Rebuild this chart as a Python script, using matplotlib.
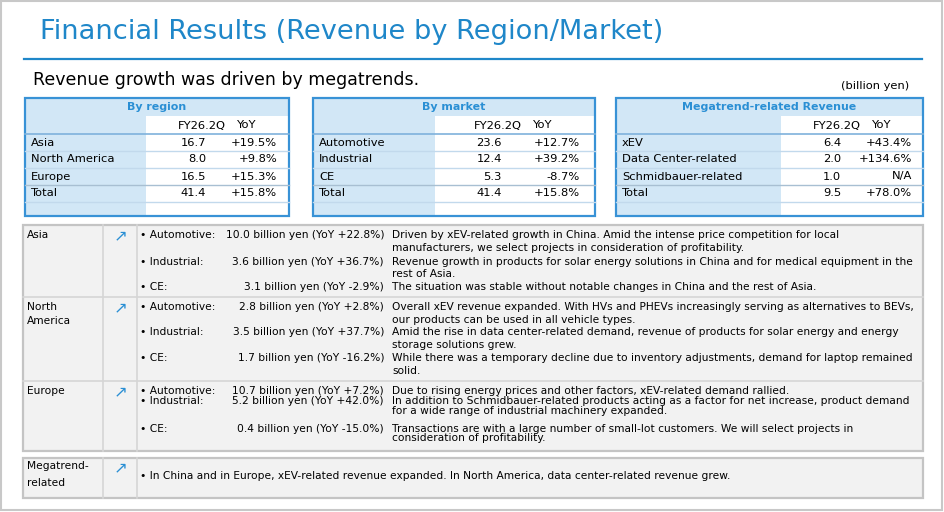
import matplotlib
matplotlib.use("Agg")
import matplotlib.pyplot as plt
from matplotlib.patches import Rectangle

# ---- data ----
region_labels = ["Asia", "North America", "Europe", "Total"]
region_values = [16.7, 8.0, 16.5, 41.4]
region_yoy = ["+19.5%", "+9.8%", "+15.3%", "+15.8%"]

market_labels = ["Automotive", "Industrial", "CE", "Total"]
market_values = [23.6, 12.4, 5.3, 41.4]
market_yoy = ["+12.7%", "+39.2%", "-8.7%", "+15.8%"]

mega_labels = ["xEV", "Data Center-related", "Schmidbauer-related", "Total"]
mega_values = [6.4, 2.0, 1.0, 9.5]
mega_yoy = ["+43.4%", "+134.6%", "N/A", "+78.0%"]

segments = ["Automotive", "Industrial", "CE"]

asia_amounts = [10.0, 3.6, 3.1]
asia_seg_yoy = ["+22.8%", "+36.7%", "-2.9%"]
asia_comments = [
    ["Driven by xEV-related growth in China. Amid the intense price competition for local",
     "manufacturers, we select projects in consideration of profitability."],
    ["Revenue growth in products for solar energy solutions in China and for medical equipment in the",
     "rest of Asia."],
    ["The situation was stable without notable changes in China and the rest of Asia."],
]

na_amounts = [2.8, 3.5, 1.7]
na_seg_yoy = ["+2.8%", "+37.7%", "-16.2%"]
na_comments = [
    ["Overall xEV revenue expanded. With HVs and PHEVs increasingly serving as alternatives to BEVs,",
     "our products can be used in all vehicle types."],
    ["Amid the rise in data center-related demand, revenue of products for solar energy and energy",
     "storage solutions grew."],
    ["While there was a temporary decline due to inventory adjustments, demand for laptop remained",
     "solid."],
]

eu_amounts = [10.7, 5.2, 0.4]
eu_seg_yoy = ["+7.2%", "+42.0%", "-15.0%"]
eu_comments = [
    ["Due to rising energy prices and other factors, xEV-related demand rallied."],
    ["In addition to Schmidbauer-related products acting as a factor for net increase, product demand",
     "for a wide range of industrial machinery expanded."],
    ["Transactions are with a large number of small-lot customers. We will select projects in",
     "consideration of profitability."],
]

mega_comment = ("In China and in Europe, xEV-related revenue expanded. "
                "In North America, data center-related revenue grew.")

# colours
TITLE_BLUE = "#1f87c9"
HEAD_BLUE = "#2a8fd4"
BORDER_BLUE = "#3892d6"
LIGHT_BLUE = "#d2e7f6"
PANEL = "#f2f2f2"
PANEL_EDGE = "#c4c4c4"
DIV = "#d6d6d6"

plt.rcParams['font.family'] = ['DejaVu Sans']

fig = plt.figure(figsize=(9.44, 5.12), dpi=100)
ax = fig.add_axes([0, 0, 1, 1])
ax.set_xlim(0, 944)
ax.set_ylim(512, 0)
ax.axis("off")
renderer = fig.canvas.get_renderer()


def fit_size(text, width, **kw):
    # font size that makes text about `width` pixels wide
    t = ax.text(0, 0, text, fontsize=10, **kw)
    w = t.get_window_extent(renderer).width
    t.remove()
    return 10 * width / w


fs_title = fit_size("Financial Results (Revenue by Region/Market)", 622)
fs_sub = fit_size("Revenue growth was driven by megatrends.", 384)
fs_unit = fit_size("(billion yen)", 68)
fs_tab = fit_size("Data Center-related", 114)
fs_head = fit_size("Megatrend-related Revenue", 175, fontweight="bold")
fs_body = fit_size(asia_comments[1][0], 516)
fs_arrow = fs_body * 1.55

# outer frame
ax.add_patch(Rectangle((1, 1), 941, 509, fc="white", ec="#c8c8c8", lw=1.5, zorder=0))

# title + rule
ax.text(40, 32, "Financial Results (Revenue by Region/Market)", fontsize=fs_title,
        color=TITLE_BLUE, va="center", ha="left")
ax.plot([24, 922], [59, 59], color=TITLE_BLUE, lw=1.6)
ax.text(33, 80, "Revenue growth was driven by megatrends.", fontsize=fs_sub,
        color="black", va="center", ha="left")
ax.text(909, 86, "(billion yen)", fontsize=fs_unit, ha="right", va="center")


def draw_table(x0, x1, col_x, fy_x, val_r, yoy_r, title, labels, values, yoy):
    top, head_b, sub_b, bottom = 98, 116, 134, 216
    row_h = 17
    ax.add_patch(Rectangle((x0, top), x1 - x0, bottom - top, fc=LIGHT_BLUE, ec="none"))
    ax.add_patch(Rectangle((col_x, head_b), x1 - col_x, bottom - head_b, fc="white", ec="none"))
    ax.text((x0 + x1) / 2, 107.5, title, ha="center", va="center", color=HEAD_BLUE,
            fontsize=fs_head, fontweight="bold")
    ax.text(fy_x, 125.5, "FY26.2Q", ha="left", va="center", fontsize=fs_tab)
    ax.text(fy_x + 58.5, 125.5, "YoY", ha="left", va="center", fontsize=fs_tab)
    ax.plot([x0, x1], [sub_b, sub_b], color="#7fb2dc", lw=1.2)
    for i, (lab, v, yy) in enumerate(zip(labels, values, yoy)):
        yc = sub_b + row_h * i + row_h / 2
        ax.text(x0 + 6, yc, lab, ha="left", va="center", fontsize=fs_tab)
        ax.text(val_r, yc, f"{v:.1f}", ha="right", va="center", fontsize=fs_tab)
        ax.text(yoy_r, yc, yy, ha="right", va="center", fontsize=fs_tab)
        line_c = "#a8bfd2" if i == len(labels) - 2 else "#c2d9ec"
        ax.plot([x0, x1], [sub_b + row_h * (i + 1)] * 2, color=line_c, lw=1.0)
    ax.add_patch(Rectangle((x0, top), x1 - x0, bottom - top, fc="none", ec=BORDER_BLUE, lw=1.6))


draw_table(25, 289, 146, 178, 206, 277, "By region", region_labels, region_values, region_yoy)
draw_table(313, 595, 435, 474, 502, 580, "By market", market_labels, market_values, market_yoy)
draw_table(616, 923, 781, 813, 841, 912, "Megatrend-related Revenue",
           mega_labels, mega_values, mega_yoy)

# ---- detail panel ----
ax.add_patch(Rectangle((23, 225), 900, 226, fc=PANEL, ec=PANEL_EDGE, lw=1.6))
for x in (103, 137):
    ax.plot([x, x], [225, 451], color=DIV, lw=1.2)
for y in (297, 381):
    ax.plot([23, 923], [y, y], color=DIV, lw=1.2)

regions = [
    (["Asia"], [235], asia_amounts, asia_seg_yoy, asia_comments,
     [[235, 248], [262, 274], [287]]),
    (["North", "America"], [307, 321], na_amounts, na_seg_yoy, na_comments,
     [[307, 320], [332, 345], [358, 371]]),
    (["Europe"], [391], eu_amounts, eu_seg_yoy, eu_comments,
     [[391], [401, 411], [429, 438]]),
]

for names, name_y, amounts, seg_yoy, comments, line_y in regions:
    for nm, ny in zip(names, name_y):
        ax.text(27, ny, nm, ha="left", va="center", fontsize=fs_body)
    ax.text(120.5, name_y[0] + 1, "\u2197", ha="center", va="center", color=HEAD_BLUE,
            fontsize=fs_arrow)
    for seg, amt, yy, com, ys in zip(segments, amounts, seg_yoy, comments, line_y):
        ax.text(140, ys[0], "\u2022 " + seg + ":", ha="left", va="center", fontsize=fs_body)
        ax.text(384, ys[0], f"{amt:.1f} billion yen (YoY {yy})", ha="right", va="center",
                fontsize=fs_body)
        for line, ly in zip(com, ys):
            ax.text(392, ly, line, ha="left", va="center", fontsize=fs_body)

# megatrend panel
ax.add_patch(Rectangle((23, 458), 900, 40, fc=PANEL, ec=PANEL_EDGE, lw=1.6))
for x in (103, 137):
    ax.plot([x, x], [458, 498], color=DIV, lw=1.2)
ax.text(27, 466, "Megatrend-", ha="left", va="center", fontsize=fs_body)
ax.text(27, 483, "related", ha="left", va="center", fontsize=fs_body)
ax.text(120.5, 468, "\u2197", ha="center", va="center", color=HEAD_BLUE, fontsize=fs_arrow)
ax.text(140, 476, "\u2022 " + mega_comment, ha="left", va="center", fontsize=fs_body)

fig.savefig("out.png", dpi=100)
